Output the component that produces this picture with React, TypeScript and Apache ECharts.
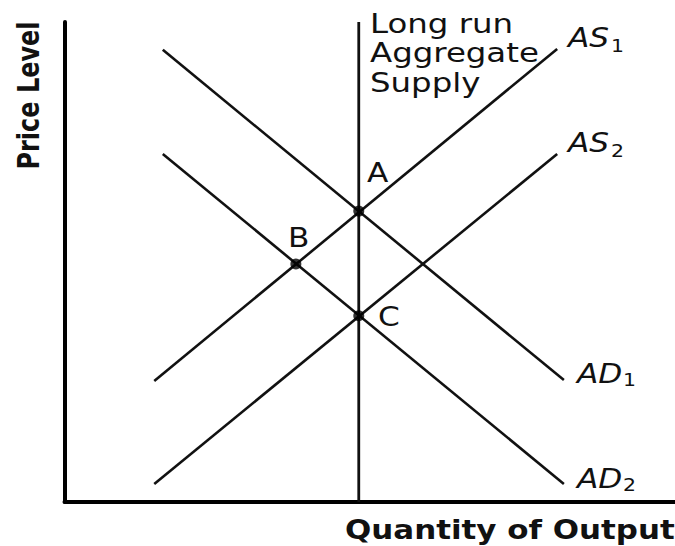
import React, { useEffect, useRef } from "react";
import * as echarts from "echarts";

// Curves: [quantity, price] end points (axis units 0..10)
const lras: number[][] = [[4.82, 0], [4.82, 10]];
const as1: number[][] = [[1.47, 2.52], [8.07, 9.44]];
const as2: number[][] = [[1.47, 0.375], [8.07, 7.25]];
const ad1: number[][] = [[1.61, 9.42], [8.18, 2.54]];
const ad2: number[][] = [[1.61, 7.25], [8.18, 0.375]];
// Equilibrium points A, B, C
const pointNames = ["A", "B", "C"];
const points: number[][] = [[4.82, 6.06], [3.79, 4.96], [4.82, 3.88]];

const FONT = "DejaVu Sans";
const INK = "#111";
const SX = 1.2;

function txt(text: string, x: number, y: number, size: number, opts: any = {}) {
  return {
    type: "text",
    x,
    y,
    scaleX: opts.scaleX ?? SX,
    scaleY: opts.scaleY ?? 1,
    rotation: opts.rotation ?? 0,
    style: {
      text,
      fill: INK,
      font: `${opts.style ?? "normal"} ${opts.weight ?? "normal"} ${size}px "${FONT}"`,
      textAlign: opts.align ?? "left",
      textVerticalAlign: "middle",
    },
  };
}

export default function App() {
  const ref = useRef<HTMLDivElement>(null);
  useEffect(() => {
    if (!ref.current) return;
    const chart = echarts.init(ref.current, undefined, { renderer: "svg" });
    const lineStyle = { color: INK, width: 2.6 };
    const axisCommon = {
      type: "value",
      min: 0,
      max: 10,
      axisLine: { show: true, onZero: false, lineStyle: { color: "#000", width: 4, cap: "round" } },
      axisTick: { show: false },
      axisLabel: { show: false },
      splitLine: { show: false },
    };
    const mkLine = (name: string, data: number[][], w = 2.6) => ({
      name,
      type: "line",
      data,
      symbol: "none",
      lineStyle: { ...lineStyle, width: w },
      silent: true,
      z: 2,
    });
    chart.setOption({
      animation: false,
      grid: { left: 64.5, top: 22, right: 0, bottom: 44 },
      xAxis: { ...axisCommon },
      yAxis: { ...axisCommon },
      series: [
        mkLine("LRAS", lras, 2.8),
        mkLine("AS1", as1),
        mkLine("AS2", as2),
        mkLine("AD1", ad1),
        mkLine("AD2", ad2),
        {
          name: "Equilibria",
          type: "scatter",
          data: points.map((p, i) => ({ name: pointNames[i], value: p })),
          symbolSize: 11,
          itemStyle: { color: "#000" },
          z: 5,
        },
      ],
      graphic: [
        txt("Long run", 370, 23, 27),
        txt("Aggregate", 370, 52, 27),
        txt("Supply", 370, 82, 27),
        txt("AS", 568, 37.5, 26, { style: "italic" }),
        txt("1", 611, 46, 17),
        txt("AS", 568, 142.5, 26, { style: "italic" }),
        txt("2", 611, 151, 17),
        txt("AD", 577, 373.5, 26, { style: "italic" }),
        txt("1", 623, 380, 17),
        txt("AD", 577, 478.5, 26, { style: "italic" }),
        txt("2", 623, 485, 17),
        txt("A", 367, 172.5, 26),
        txt("B", 288, 237.5, 26),
        txt("C", 378, 317, 26),
        txt("Quantity of Output", 345, 529.5, 26, { weight: "bold", scaleX: 1.19 }),
        txt("Price Level", 29, 95.5, 24, {
          weight: "bold",
          align: "center",
          rotation: Math.PI / 2,
          scaleX: 1,
          scaleY: 1.25,
        }),
      ],
    });
    return () => chart.dispose();
  }, []);
  return (
    <div
      ref={ref}
      style={{ position: "fixed", left: 0, top: 0, width: 675, height: 546, background: "#fff" }}
    />
  );
}
